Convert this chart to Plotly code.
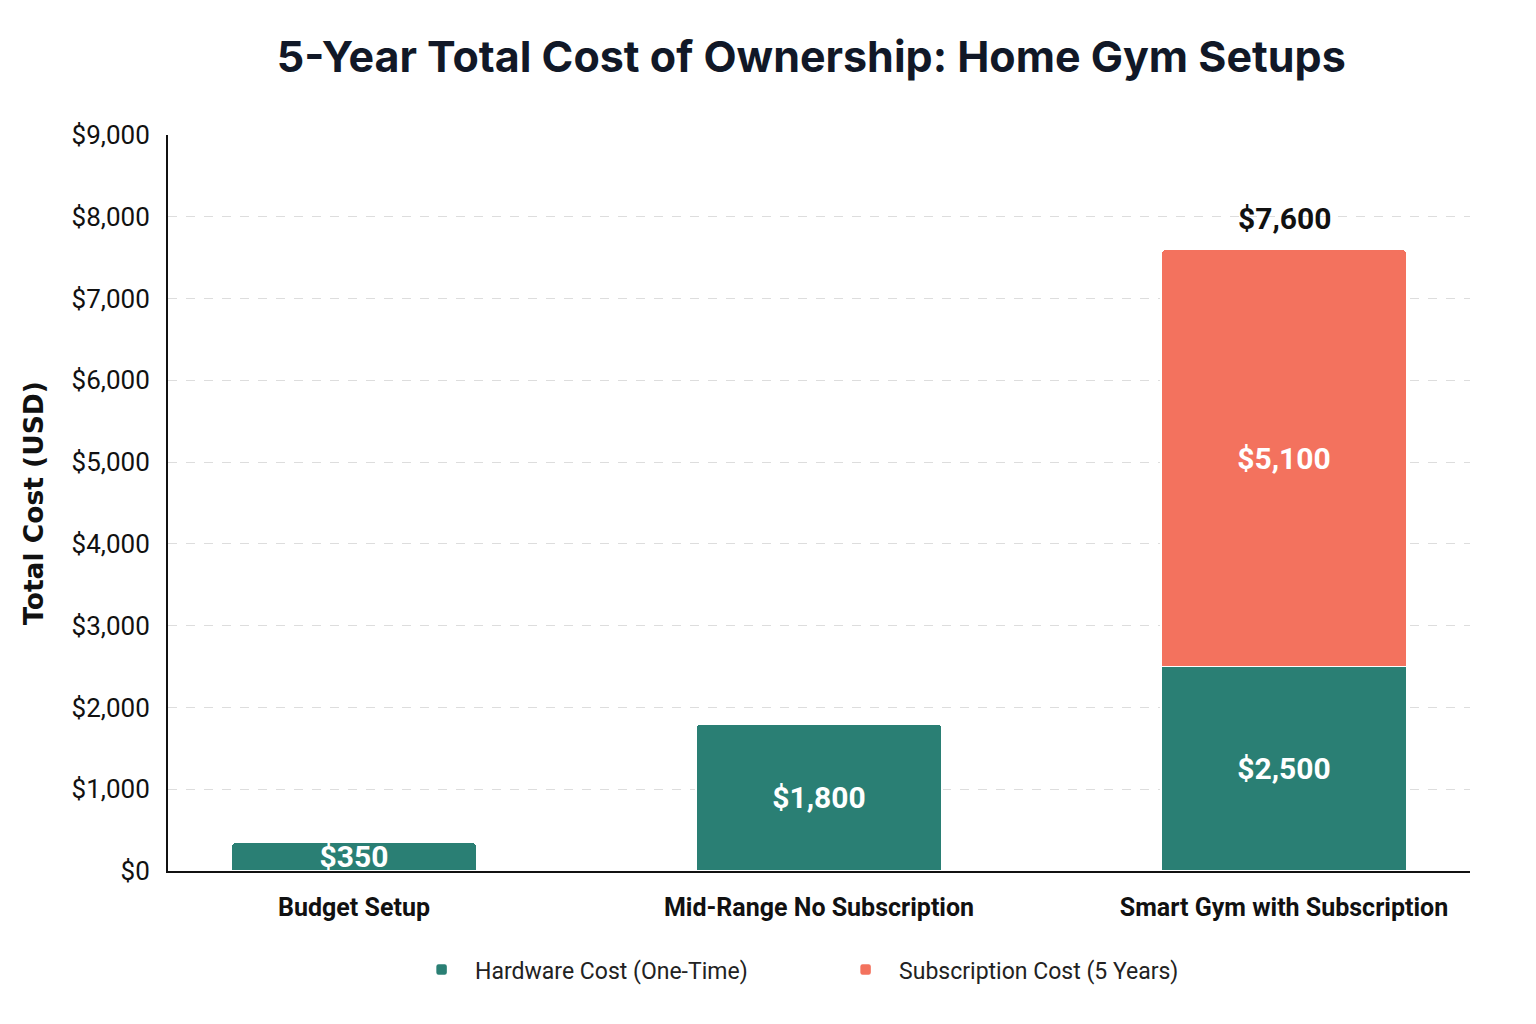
import plotly.graph_objects as go

categories = ["Budget Setup", "Mid-Range No Subscription", "Smart Gym with Subscription"]
hardware = [350, 1800, 2500]
subscription = [0, 0, 5100]
totals = [h + s for h, s in zip(hardware, subscription)]
y_ticks = [0, 1000, 2000, 3000, 4000, 5000, 6000, 7000, 8000, 9000]
y_labels = ["${:,}".format(v) for v in y_ticks]

TEAL = "#2A7F74"
CORAL = "#F3725E"
LABEL_FONT = dict(family="Roboto", size=30, color="white", weight="bold")

fig = go.Figure()
fig.add_trace(go.Bar(
    name="Hardware Cost (One-Time)",
    x=categories, y=hardware,
    marker=dict(color=TEAL, line=dict(color="white", width=1.5)),
    text=["${:,}".format(v) for v in hardware],
    textposition="inside", insidetextanchor="middle",
    textfont=LABEL_FONT,
    width=0.53,
))
sub_text = ["${:,}".format(v) if v > 0 else "" for v in subscription]
fig.add_trace(go.Bar(
    name="Subscription Cost (5 Years)",
    x=categories, y=subscription,
    marker=dict(color=CORAL, line=dict(color="white", width=1.5)),
    text=sub_text,
    textposition="inside", insidetextanchor="middle",
    textfont=LABEL_FONT,
    width=0.53,
))

# total label above the stacked bar
for c, t, s in zip(categories, totals, subscription):
    if s > 0:
        fig.add_annotation(x=c, y=t, text="${:,}".format(t), showarrow=False,
                           yanchor="middle", yshift=31,
                           font=dict(family="Roboto", size=30, color="#111", weight="bold"))

fig.update_layout(
    barmode="stack",
    barcornerradius=5,
    width=1536, height=1024,
    paper_bgcolor="white", plot_bgcolor="white",
    margin=dict(l=160, r=74, t=127, b=161),
    title=dict(text="5-Year Total Cost of Ownership: Home Gym Setups",
               x=0.523, xanchor="center", y=0.952, yanchor="middle",
               font=dict(family="Inter", size=43, color="#111827", weight="bold")),
    font=dict(family="Roboto", color="#111"),
    uniformtext=dict(minsize=30, mode="show"),
    legend=dict(orientation="h", x=0.1844, xanchor="left", y=-0.134, yanchor="middle",
                font=dict(family="Roboto", size=23, color="#222"),
                itemwidth=57, entrywidth=352, entrywidthmode="pixels",
                traceorder="normal"),
    showlegend=True,
)
fig.update_xaxes(
    range=[-0.4, 2.4],
    showline=True, linecolor="#111", linewidth=2,
    ticks="", ticklabelstandoff=13,
    tickfont=dict(family="Roboto", size=25, color="#111", weight="bold"),
    showgrid=False, automargin=False,
)
fig.update_yaxes(
    range=[0, 9000],
    tickvals=y_ticks, ticktext=y_labels,
    showline=True, linecolor="#111", linewidth=2,
    ticklabelstandoff=11,
    tickfont=dict(family="Roboto", size=26, color="#111"),
    showgrid=True, gridcolor="#DDDDDD", griddash="dash", gridwidth=1,
    zeroline=False, automargin=False,
    title=dict(text="Total Cost (USD)",
               font=dict(family="DejaVu Sans", size=26.5, color="#111", weight="bold"),
               standoff=20),
)

fig.write_html("out.html")
